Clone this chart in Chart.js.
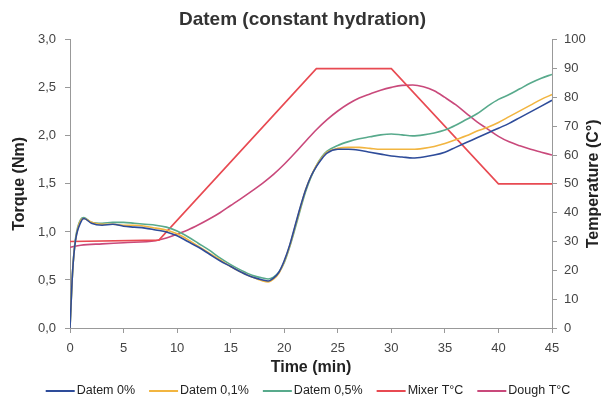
<!DOCTYPE html>
<html>
<head>
<meta charset="utf-8">
<script src="https://cdn.jsdelivr.net/npm/chart.js@4/dist/chart.umd.min.js"></script>
<style>
  html, body { margin: 0; padding: 0; background: #fff; }
  #wrap { width: 605px; height: 398px; }
</style>
</head>
<body>
<div id="wrap"><canvas id="chart"></canvas></div>
<script>
// torque curves (Nm), all sampled on the same time grid (min)
const torqueTime = [0, 0.25, 0.5, 1, 1.3, 2, 3, 4, 5, 6, 7, 8, 9, 10, 11, 12, 13, 14, 15, 16, 17, 18, 18.5, 19, 19.5, 20, 20.5, 21, 21.5, 22, 22.5, 23, 23.5, 24, 25, 26, 27, 28, 29, 30, 31, 32, 33, 34, 35, 36, 37, 38, 39, 40, 41, 42, 43, 44, 45]
const datem0 = [0, 0.6, 0.9, 1.1, 1.14, 1.09, 1.07, 1.08, 1.06, 1.05, 1.04, 1.02, 1.0, 0.96, 0.9, 0.84, 0.77, 0.7, 0.64, 0.58, 0.53, 0.5, 0.49, 0.52, 0.58, 0.7, 0.86, 1.06, 1.26, 1.44, 1.58, 1.68, 1.76, 1.82, 1.86, 1.86, 1.85, 1.83, 1.81, 1.79, 1.78, 1.77, 1.78, 1.8, 1.83, 1.88, 1.93, 1.98, 2.03, 2.08, 2.13, 2.19, 2.25, 2.31, 2.37]
const datem01 = [0, 0.6, 0.9, 1.12, 1.14, 1.1, 1.08, 1.08, 1.07, 1.07, 1.06, 1.04, 1.02, 0.98, 0.92, 0.85, 0.78, 0.71, 0.64, 0.58, 0.53, 0.49, 0.48, 0.51, 0.57, 0.69, 0.85, 1.05, 1.25, 1.44, 1.58, 1.69, 1.77, 1.83, 1.87, 1.88, 1.88, 1.87, 1.86, 1.86, 1.86, 1.86, 1.87, 1.89, 1.92, 1.96, 2.0, 2.05, 2.09, 2.14, 2.2, 2.26, 2.32, 2.38, 2.43]
const datem05 = [0, 0.6, 0.92, 1.13, 1.15, 1.1, 1.09, 1.1, 1.1, 1.09, 1.08, 1.07, 1.05, 1.01, 0.95, 0.88, 0.81, 0.73, 0.66, 0.6, 0.55, 0.52, 0.51, 0.53, 0.58, 0.68, 0.84, 1.03, 1.23, 1.42, 1.57, 1.69, 1.78, 1.84, 1.9, 1.94, 1.97, 1.99, 2.01, 2.02, 2.01, 2.0, 2.01, 2.03, 2.06, 2.11, 2.17, 2.23, 2.31, 2.38, 2.43, 2.49, 2.55, 2.6, 2.64]

// temperatures (°C)
const mixerTime = [0, 8.3, 23, 30, 40, 45]
const mixerTemp = [30, 30.5, 90, 90, 50, 50]
const doughTime = [0, 1, 3, 5, 8, 9, 10, 11, 12, 13, 14, 15, 16, 17, 18, 19, 20, 21, 22, 23, 24, 25, 26, 27, 28, 29, 30, 31, 32, 33, 34, 35, 36, 37, 38, 39, 40, 41, 42, 43, 44, 45]
const doughTemp = [28, 28.7, 29.2, 29.6, 30.3, 31.2, 32.6, 34, 35.8, 37.8, 40, 42.5, 45, 47.6, 50.3, 53.3, 56.8, 60.7, 64.8, 68.8, 72.3, 75.3, 77.8, 79.8, 81.2, 82.5, 83.5, 84.2, 84.3, 83.7, 82.3, 80, 77.5, 74.5, 71.5, 69, 66.5, 64.6, 63.2, 62, 61, 60]

const seriesLabels = ["Datem 0%", "Datem 0,1%", "Datem 0,5%", "Mixer T°C", "Dough T°C"]
const seriesColors = ["#2e4c9a", "#f2b540", "#58aa8c", "#e84a52", "#c9497b"]

function points(xs, ys) {
  return xs.map((x, i) => ({ x: x, y: ys[i] }))
}

const axisColor = "#999"
const tickFont = { family: "Liberation Sans, Arial, sans-serif", size: 13 }
const titleFont = { family: "Liberation Sans, Arial, sans-serif", size: 16, weight: "bold" }

// right axis title reads bottom to top, chart.js would rotate it the other way
const rightTitle = {
  id: "rightTitle",
  afterDraw(chart) {
    const ctx = chart.ctx
    const area = chart.chartArea
    ctx.save()
    ctx.translate(594, (area.top + area.bottom) / 2)
    ctx.rotate(-Math.PI / 2)
    ctx.font = "bold 16px 'Liberation Sans', Arial, sans-serif"
    ctx.fillStyle = "#222"
    ctx.textAlign = "center"
    ctx.textBaseline = "middle"
    ctx.fillText("Temperature (C°)", 0, 0)
    ctx.restore()
  }
}

// legend drawn by hand so the short line samples sit right next to the text
const lineLegend = {
  id: "lineLegend",
  afterDraw(chart) {
    const ctx = chart.ctx
    const sets = chart.data.datasets
    const sample = 29, gapText = 2, gapItem = 14, y = 391
    ctx.save()
    ctx.font = "12.5px 'Liberation Sans', Arial, sans-serif"
    let total = 0
    sets.forEach((ds, i) => {
      total += sample + gapText + ctx.measureText(ds.label).width
      if (i < sets.length - 1) total += gapItem
    })
    let x = 308 - total / 2
    ctx.textBaseline = "middle"
    sets.forEach(ds => {
      ctx.strokeStyle = ds.borderColor
      ctx.lineWidth = 2
      ctx.beginPath()
      ctx.moveTo(x, y)
      ctx.lineTo(x + sample, y)
      ctx.stroke()
      x += sample + gapText
      ctx.fillStyle = "#222"
      ctx.fillText(ds.label, x, y)
      x += ctx.measureText(ds.label).width + gapItem
    })
    ctx.restore()
  }
}

const torqueSets = [datem0, datem01, datem05].map((vals, i) => ({
  label: seriesLabels[i],
  data: points(torqueTime, vals),
  borderColor: seriesColors[i],
  borderWidth: 1.6,
  pointRadius: 0,
  cubicInterpolationMode: "monotone",
  yAxisID: "y"
}))

const tempSets = [
  {
    label: seriesLabels[3],
    data: points(mixerTime, mixerTemp),
    borderColor: seriesColors[3],
    borderWidth: 1.6,
    pointRadius: 0,
    tension: 0,
    yAxisID: "y2"
  },
  {
    label: seriesLabels[4],
    data: points(doughTime, doughTemp),
    borderColor: seriesColors[4],
    borderWidth: 1.6,
    pointRadius: 0,
    cubicInterpolationMode: "monotone",
    yAxisID: "y2"
  }
]

new Chart(document.getElementById("chart"), {
  type: "line",
  data: { datasets: torqueSets.concat(tempSets) },
  options: {
    responsive: true,
    maintainAspectRatio: false,
    animation: false,
    layout: { padding: { bottom: 20 } },
    plugins: {
      legend: { display: false },
      tooltip: { enabled: false },
      title: {
        display: true,
        text: "Datem (constant hydration)",
        color: "#333",
        font: { family: "Liberation Sans, Arial, sans-serif", size: 19, weight: "bold" },
        padding: { top: 8, bottom: 9 }
      }
    },
    scales: {
      x: {
        type: "linear",
        min: 0,
        max: 45,
        afterFit(scale) { scale.height = 50 },
        grid: { drawOnChartArea: false, color: axisColor, tickLength: 5 },
        border: { color: axisColor },
        ticks: { stepSize: 5, color: "#444", font: tickFont, padding: 8 },
        title: { display: true, text: "Time (min)", color: "#222", font: titleFont, padding: { top: 0, bottom: 1 } }
      },
      y: {
        position: "left",
        min: 0,
        max: 3,
        afterFit(scale) { scale.width = 70 },
        grid: { drawOnChartArea: false, color: axisColor, tickLength: 5 },
        border: { color: axisColor },
        ticks: {
          stepSize: 0.5,
          color: "#444",
          font: tickFont,
          padding: 9,
          callback: v => v.toFixed(1).replace(".", ",")
        },
        title: { display: true, text: "Torque (Nm)", color: "#222", font: titleFont, padding: { top: 10, bottom: 0 } }
      },
      y2: {
        position: "right",
        min: 0,
        max: 100,
        afterFit(scale) { scale.width = 53 },
        grid: { drawOnChartArea: false, color: axisColor, tickLength: 5 },
        border: { color: axisColor },
        ticks: { stepSize: 10, color: "#444", font: tickFont, padding: 7 }
      }
    }
  },
  plugins: [rightTitle, lineLegend]
})
</script>
</body>
</html>
